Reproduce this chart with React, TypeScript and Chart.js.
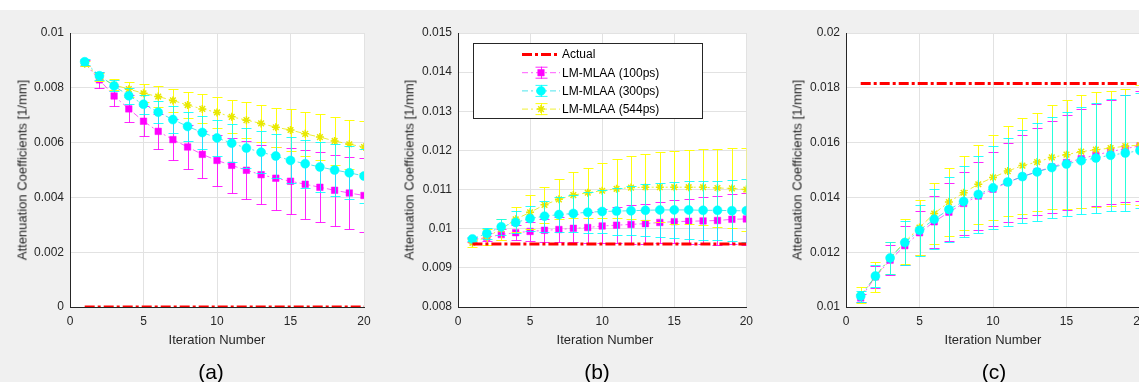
import React, { useEffect, useRef } from 'react';
import { Chart, registerables } from 'chart.js';
import { drawPoint } from 'chart.js/helpers';

Chart.register(...registerables);

// ---------- data ----------
const ITER = [1, 2, 3, 4, 5, 6, 7, 8, 9, 10, 11, 12, 13, 14, 15, 16, 17, 18, 19, 20];
const ACTUAL_ITER = [1, 20];

const LABELS = ['Actual', 'LM-MLAA (100ps)', 'LM-MLAA (300ps)', 'LM-MLAA (544ps)'];

// panel (a)
const A_ACTUAL = [0, 0];
const A_100 = [0.0089, 0.00829, 0.0077, 0.00723, 0.00678, 0.00641, 0.00611, 0.00584, 0.00557, 0.00535, 0.00517, 0.00499, 0.00483, 0.0047, 0.00459, 0.00448, 0.00437, 0.00426, 0.00416, 0.00407];
const A_100_ERR = [0.0001, 0.0003, 0.00038, 0.00049, 0.00055, 0.00064, 0.00076, 0.00082, 0.00087, 0.00094, 0.00101, 0.00106, 0.00107, 0.00115, 0.0012, 0.00126, 0.00128, 0.0013, 0.00133, 0.00135];
const A_300 = [0.00895, 0.00844, 0.00807, 0.00771, 0.0074, 0.00711, 0.00684, 0.00659, 0.00637, 0.00617, 0.00598, 0.0058, 0.00565, 0.00551, 0.00535, 0.00523, 0.00511, 0.005, 0.0049, 0.00478];
const A_300_ERR = [0.0001, 0.00015, 0.0002, 0.0003, 0.00035, 0.0004, 0.00048, 0.00054, 0.0006, 0.00065, 0.0007, 0.00074, 0.00077, 0.0008, 0.00084, 0.00088, 0.00091, 0.00094, 0.00097, 0.001];
const A_544 = [0.00888, 0.00839, 0.00811, 0.00795, 0.0078, 0.00768, 0.00754, 0.00737, 0.00723, 0.0071, 0.00694, 0.00682, 0.0067, 0.00656, 0.00646, 0.00632, 0.0062, 0.00606, 0.00594, 0.00584];
const A_544_ERR = [0.0001, 0.00015, 0.0002, 0.00027, 0.00033, 0.00038, 0.00043, 0.00048, 0.00053, 0.00057, 0.0006, 0.00065, 0.00068, 0.00072, 0.00077, 0.0008, 0.00084, 0.00087, 0.0009, 0.00094];

// panel (b)
const B_ACTUAL = [0.00961, 0.00961];
const B_100 = [0.00971, 0.00978, 0.00985, 0.0099, 0.00993, 0.00996, 0.00998, 0.01001, 0.01003, 0.01007, 0.01009, 0.01011, 0.01013, 0.01016, 0.01018, 0.01019, 0.0102, 0.01021, 0.01024, 0.01025];
const B_100_ERR = [0.00005, 0.0001, 0.00015, 0.0002, 0.00025, 0.0003, 0.00033, 0.00036, 0.0004, 0.00043, 0.00046, 0.00049, 0.00051, 0.00053, 0.00055, 0.00057, 0.0006, 0.00062, 0.00064, 0.00066];
const B_300 = [0.00974, 0.00988, 0.01005, 0.01016, 0.01026, 0.01032, 0.01036, 0.01039, 0.01042, 0.01044, 0.01045, 0.01046, 0.01047, 0.01048, 0.01048, 0.01048, 0.01047, 0.01047, 0.01046, 0.01046];
const B_300_ERR = [0.00005, 0.00015, 0.0002, 0.00028, 0.00033, 0.0004, 0.00044, 0.00048, 0.00052, 0.00056, 0.0006, 0.00063, 0.00066, 0.00069, 0.00071, 0.00073, 0.00075, 0.00076, 0.00078, 0.0008];
const B_544 = [0.00964, 0.00979, 0.00999, 0.01024, 0.01042, 0.01061, 0.01075, 0.01086, 0.01092, 0.01097, 0.01102, 0.01105, 0.01106, 0.01106, 0.01106, 0.01106, 0.01106, 0.01104, 0.01103, 0.011];
const B_544_ERR = [0.0001, 0.0002, 0.00027, 0.00032, 0.00043, 0.00046, 0.00051, 0.00058, 0.00064, 0.0007, 0.00075, 0.00081, 0.00085, 0.00089, 0.00093, 0.00095, 0.00097, 0.001, 0.00102, 0.00105];

// panel (c)
const C_ACTUAL = [0.01816, 0.01816];
const C_100 = [0.01033, 0.0111, 0.01171, 0.01224, 0.01271, 0.01311, 0.01346, 0.01378, 0.01405, 0.0143, 0.01455, 0.01476, 0.01494, 0.01511, 0.01527, 0.01541, 0.01555, 0.01567, 0.01578, 0.01588];
const C_100_ERR = [0.00015, 0.0004, 0.00055, 0.0007, 0.0008, 0.00095, 0.00105, 0.00115, 0.00125, 0.00136, 0.00145, 0.0015, 0.0016, 0.00168, 0.00173, 0.0018, 0.00185, 0.0019, 0.00195, 0.002];
const C_300 = [0.0104, 0.01113, 0.01179, 0.01235, 0.0128, 0.0132, 0.01356, 0.01385, 0.01411, 0.01435, 0.01456, 0.01476, 0.01493, 0.01509, 0.01522, 0.01534, 0.01544, 0.01554, 0.01562, 0.01571];
const C_300_ERR = [0.0002, 0.0004, 0.0006, 0.0008, 0.00093, 0.0011, 0.0012, 0.0013, 0.0014, 0.00152, 0.0016, 0.0017, 0.0018, 0.00185, 0.0019, 0.00195, 0.002, 0.00205, 0.0021, 0.0021];
const C_544 = [0.01044, 0.0111, 0.01179, 0.01238, 0.0129, 0.01341, 0.01383, 0.01417, 0.01448, 0.01473, 0.01496, 0.01516, 0.01529, 0.01546, 0.01556, 0.01567, 0.01574, 0.0158, 0.01587, 0.01591];
const C_544_ERR = [0.0003, 0.00055, 0.0006, 0.00082, 0.001, 0.0011, 0.00125, 0.00135, 0.00145, 0.00155, 0.00165, 0.00175, 0.0018, 0.0019, 0.002, 0.00205, 0.0021, 0.0021, 0.0021, 0.0022];

const X_MIN = 0;
const X_MAX = 20;
const X_STEP = 5;

// ---------- style ----------
const FONT = "'Liberation Sans', Arial, Helvetica, sans-serif";
const TEXT = '#262626';
const GRID = '#e2e2e2';

const fmt = (v: any) => String(parseFloat(Number(v).toFixed(4)));

const bgPlugin = {
  id: 'areaBg',
  beforeDraw(chart: any) {
    const { ctx, chartArea } = chart;
    ctx.save();
    ctx.fillStyle = '#ffffff';
    ctx.fillRect(chartArea.left, chartArea.top, chartArea.right - chartArea.left, chartArea.bottom - chartArea.top);
    ctx.restore();
  },
};

const errorBarPlugin = {
  id: 'errBars',
  beforeDatasetDraw(chart: any, args: any) {
    const ds = chart.data.datasets[args.index];
    if (!ds.errors) return;
    const { ctx, chartArea } = chart;
    const xs = chart.scales.x;
    const ys = chart.scales.y;
    ctx.save();
    ctx.beginPath();
    ctx.rect(chartArea.left, chartArea.top - 1, chartArea.right - chartArea.left, chartArea.bottom - chartArea.top + 2);
    ctx.clip();
    ctx.strokeStyle = ds.errColor;
    ctx.lineWidth = 1;
    ctx.setLineDash([]);
    ds.data.forEach((p: any, i: number) => {
      const e = ds.errors[i];
      const px = Math.round(xs.getPixelForValue(p.x)) + 0.5;
      const y1 = Math.round(ys.getPixelForValue(p.y - e)) + 0.5;
      const y2 = Math.round(ys.getPixelForValue(p.y + e)) + 0.5;
      ctx.beginPath();
      ctx.moveTo(px, y1);
      ctx.lineTo(px, y2);
      ctx.moveTo(px - 5, y1);
      ctx.lineTo(px + 5, y1);
      ctx.moveTo(px - 5, y2);
      ctx.lineTo(px + 5, y2);
      ctx.stroke();
    });
    ctx.restore();
  },
};

const legendPlugin = {
  id: 'boxLegend',
  afterDraw(chart: any, _args: any, opts: any) {
    if (!opts || !opts.show) return;
    const ctx = chart.ctx;
    ctx.save();
    ctx.fillStyle = '#ffffff';
    ctx.fillRect(opts.x, opts.y, opts.w, opts.h);
    ctx.strokeStyle = TEXT;
    ctx.lineWidth = 1;
    ctx.strokeRect(opts.x + 0.5, opts.y + 0.5, opts.w, opts.h);
    const n = chart.data.datasets.length;
    for (let i = 0; i < n; i++) {
      const ds = chart.data.datasets[i];
      const cy = opts.y + opts.firstRow + i * opts.rowGap;
      const x0 = opts.x + opts.lineStart;
      const x1 = opts.x + opts.lineEnd;
      const mx = (x0 + x1) / 2;
      ctx.save();
      ctx.strokeStyle = ds.borderColor;
      ctx.lineWidth = ds.borderWidth;
      ctx.setLineDash(ds.borderDash || []);
      ctx.beginPath();
      ctx.moveTo(x0, cy);
      ctx.lineTo(x1, cy);
      ctx.stroke();
      ctx.restore();
      if (ds.errors) {
        ctx.save();
        ctx.strokeStyle = ds.errColor;
        ctx.lineWidth = 1;
        const bx = Math.round(mx) + 0.5;
        ctx.beginPath();
        ctx.moveTo(bx, cy - 6);
        ctx.lineTo(bx, cy + 6);
        ctx.moveTo(bx - 6, cy - 6 + 0.5);
        ctx.lineTo(bx + 6, cy - 6 + 0.5);
        ctx.moveTo(bx - 6, cy + 6 - 0.5);
        ctx.lineTo(bx + 6, cy + 6 - 0.5);
        ctx.stroke();
        ctx.restore();
      }
      if (ds.pointRadius > 0) {
        ctx.save();
        ctx.fillStyle = ds.pointBackgroundColor;
        ctx.strokeStyle = ds.pointBorderColor;
        ctx.lineWidth = ds.pointBorderWidth;
        drawPoint(ctx, { pointStyle: ds.pointStyle, rotation: 0, radius: ds.pointRadius, borderWidth: ds.pointBorderWidth } as any, mx, cy);
        ctx.restore();
      }
      ctx.fillStyle = '#000000';
      ctx.font = `12px ${FONT}`;
      ctx.textBaseline = 'middle';
      ctx.textAlign = 'left';
      ctx.fillText(ds.label, opts.x + opts.textX, cy + 0.5);
    }
    ctx.restore();
  },
};

function pts(xs: number[], ys: number[]) {
  return xs.map((x, i) => ({ x, y: ys[i] }));
}

function makeConfig(p: any) {
  return {
    type: 'line',
    data: {
      datasets: [
        {
          label: LABELS[0],
          data: pts(ACTUAL_ITER, p.actual),
          borderColor: '#ff0000',
          borderWidth: 3,
          borderDash: [10, 3, 3, 3],
          pointRadius: 0,
          order: 0,
          fill: false,
        },
        {
          label: LABELS[1],
          data: pts(ITER, p.s100),
          errors: p.e100,
          errColor: 'rgba(255,0,255,0.85)',
          borderColor: 'rgba(255,0,255,0.65)',
          borderWidth: 1,
          borderDash: [6, 3, 2, 3],
          pointStyle: 'rect',
          pointRadius: 4.6,
          pointBackgroundColor: '#ff00ff',
          pointBorderColor: '#ff00ff',
          pointBorderWidth: 0.5,
          order: 3,
          fill: false,
        },
        {
          label: LABELS[2],
          data: pts(ITER, p.s300),
          errors: p.e300,
          errColor: 'rgba(0,255,255,0.85)',
          borderColor: 'rgba(0,220,230,0.7)',
          borderWidth: 1,
          borderDash: [6, 3, 2, 3],
          pointStyle: 'circle',
          pointRadius: 4.5,
          pointBackgroundColor: '#00ffff',
          pointBorderColor: '#00ffff',
          pointBorderWidth: 0.5,
          order: 1,
          fill: false,
        },
        {
          label: LABELS[3],
          data: pts(ITER, p.s544),
          errors: p.e544,
          errColor: 'rgba(255,255,0,0.95)',
          borderColor: 'rgba(235,235,0,0.8)',
          borderWidth: 1,
          borderDash: [6, 3, 2, 3],
          pointStyle: 'star',
          pointRadius: 4,
          pointBackgroundColor: '#f2f200',
          pointBorderColor: '#e8e800',
          pointBorderWidth: 1.5,
          order: 2,
          fill: false,
        },
      ],
    },
    options: {
      animation: false,
      responsive: false,
      maintainAspectRatio: false,
      events: [],
      layout: { padding: { left: 0, top: 23, right: p.padRight, bottom: 0 } },
      elements: { line: { tension: 0 } },
      plugins: {
        legend: { display: false },
        tooltip: { enabled: false },
        boxLegend: p.legend || { show: false },
      },
      scales: {
        x: {
          type: 'linear',
          min: X_MIN,
          max: X_MAX,
          ticks: { stepSize: X_STEP, color: TEXT, font: { family: FONT, size: 12 }, padding: 7, maxRotation: 0 },
          grid: { color: GRID, drawTicks: false },
          border: { color: TEXT, width: 1 },
          afterFit: (s: any) => {
            s.height = 75;
          },
        },
        y: {
          type: 'linear',
          min: p.ymin,
          max: p.ymax,
          ticks: { stepSize: p.ystep, color: TEXT, font: { family: FONT, size: 12 }, padding: 6, callback: fmt },
          grid: { color: GRID, drawTicks: false },
          border: { color: TEXT, width: 1 },
          afterFit: (s: any) => {
            s.width = p.yw;
          },
        },
      },
    },
    plugins: [bgPlugin, errorBarPlugin, legendPlugin],
  };
}

const PANELS = [
  { key: 'a', left: 0, width: 380, yw: 70, padRight: 16, ymin: 0, ymax: 0.01, ystep: 0.002, actual: A_ACTUAL, s100: A_100, e100: A_100_ERR, s300: A_300, e300: A_300_ERR, s544: A_544, e544: A_544_ERR, titleX: 22, plotL: 70, plotR: 364, cap: '(a)', capX: 211 },
  {
    key: 'b', left: 380, width: 380, yw: 78, padRight: 8, ymin: 0.008, ymax: 0.015, ystep: 0.001, actual: B_ACTUAL, s100: B_100, e100: B_100_ERR, s300: B_300, e300: B_300_ERR, s544: B_544, e544: B_544_ERR, titleX: 409, plotL: 458, plotR: 752, cap: '(b)', capX: 597,
    legend: { show: true, x: 93, y: 33, w: 229, h: 75, firstRow: 11.5, rowGap: 18.2, lineStart: 49, lineEnd: 87, textX: 89 },
  },
  { key: 'c', left: 760, width: 400, yw: 86, padRight: 20, ymin: 0.01, ymax: 0.02, ystep: 0.002, actual: C_ACTUAL, s100: C_100, e100: C_100_ERR, s300: C_300, e300: C_300_ERR, s544: C_544, e544: C_544_ERR, titleX: 797, plotL: 846, plotR: 1140, cap: '(c)', capX: 994 },
];

const CANVAS_TOP = 10;
const CANVAS_H = 372;

export default function App() {
  const refs = [useRef<HTMLCanvasElement>(null), useRef<HTMLCanvasElement>(null), useRef<HTMLCanvasElement>(null)];

  useEffect(() => {
    const charts: Chart[] = [];
    PANELS.forEach((p, i) => {
      const c = refs[i].current;
      if (c) charts.push(new Chart(c, makeConfig(p) as any));
    });
    return () => charts.forEach((ch) => ch.destroy());
  }, []);

  const textBase: React.CSSProperties = {
    position: 'absolute',
    fontFamily: FONT,
    color: TEXT,
    whiteSpace: 'nowrap',
    transform: 'translate(-50%, -50%)',
    lineHeight: 1,
  };

  return (
    <div style={{ position: 'fixed', left: 0, top: 0, width: 1139, height: 382, overflow: 'hidden', background: '#f0f0f0' }}>
      <div style={{ position: 'absolute', left: 0, top: 0, width: 1139, height: CANVAS_TOP, background: '#ffffff' }} />
      {PANELS.map((p, i) => (
        <canvas
          key={p.key}
          ref={refs[i]}
          width={p.width}
          height={CANVAS_H}
          style={{ position: 'absolute', left: p.left, top: CANVAS_TOP, width: p.width, height: CANVAS_H }}
        />
      ))}
      {PANELS.map((p) => (
        <React.Fragment key={'t' + p.key}>
          <div style={{ ...textBase, left: p.titleX, top: 170, fontSize: 13, transform: 'translate(-50%, -50%) rotate(-90deg)' }}>
            Attenuation Coefficients [1/mm]
          </div>
          <div style={{ ...textBase, left: (p.plotL + p.plotR) / 2, top: 339, fontSize: 13 }}>Iteration Number</div>
          <div style={{ ...textBase, left: p.capX, top: 371, fontSize: 21, color: '#000000' }}>{p.cap}</div>
        </React.Fragment>
      ))}
    </div>
  );
}
